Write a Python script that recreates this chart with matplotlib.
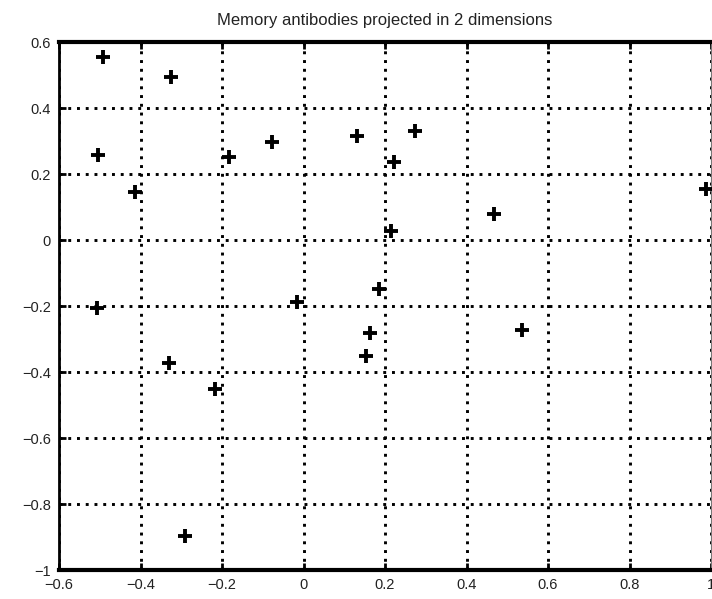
import matplotlib.pyplot as plt

# Antibody coordinates
x_vals = [-0.492, -0.325, -0.504, -0.413, -0.183, -0.077, 0.131, 0.274, 0.222,
          0.215, 0.467, 0.988, -0.507, -0.016, 0.185, 0.163, 0.153, 0.536,
          -0.330, -0.217, -0.291]
y_vals = [0.555, 0.494, 0.258, 0.145, 0.252, 0.297, 0.315, 0.330, 0.236,
          0.027, 0.079, 0.155, -0.206, -0.188, -0.148, -0.282, -0.352, -0.273,
          -0.373, -0.452, -0.897]

x_ticks = [-0.6, -0.4, -0.2, 0, 0.2, 0.4, 0.6, 0.8, 1]
y_ticks = [-1, -0.8, -0.6, -0.4, -0.2, 0, 0.2, 0.4, 0.6]


def fmt(v):
    s = f"{v:g}"
    return s.replace("-", "\u2212")


plt.rcParams['font.family'] = ['Liberation Sans', 'DejaVu Sans']

fig = plt.figure(figsize=(7.12, 5.99), dpi=100)
ax = fig.add_axes([59 / 712, 1 - 570 / 599, 652 / 712, 528 / 599])

ax.plot(x_vals, y_vals, linestyle='none', marker='+', markersize=9.5,
        markeredgewidth=2.8, color='black', zorder=3)

ax.set_xlim(-0.6, 1)
ax.set_ylim(-1, 0.6)
ax.set_xticks(x_ticks)
ax.set_yticks(y_ticks)
ax.set_xticklabels([fmt(v) for v in x_ticks])
ax.set_yticklabels([fmt(v) for v in y_ticks])
ax.tick_params(direction='in', length=5, width=2, top=True, right=False,
               labelsize=10.5, pad=6, colors='black', labelcolor='#222222')
ax.grid(True, linestyle=(0, (1, 2)), linewidth=2.1, color='black')

ax.spines['top'].set_linewidth(3)
ax.spines['bottom'].set_linewidth(3)
ax.spines['left'].set_linewidth(2)
ax.spines['right'].set_linewidth(0.8)
ax.spines['right'].set_color('#777777')

ax.set_title('Memory antibodies projected in 2 dimensions', fontsize=12,
             pad=12, color='#222222')

fig.savefig('out.png', dpi=100)
